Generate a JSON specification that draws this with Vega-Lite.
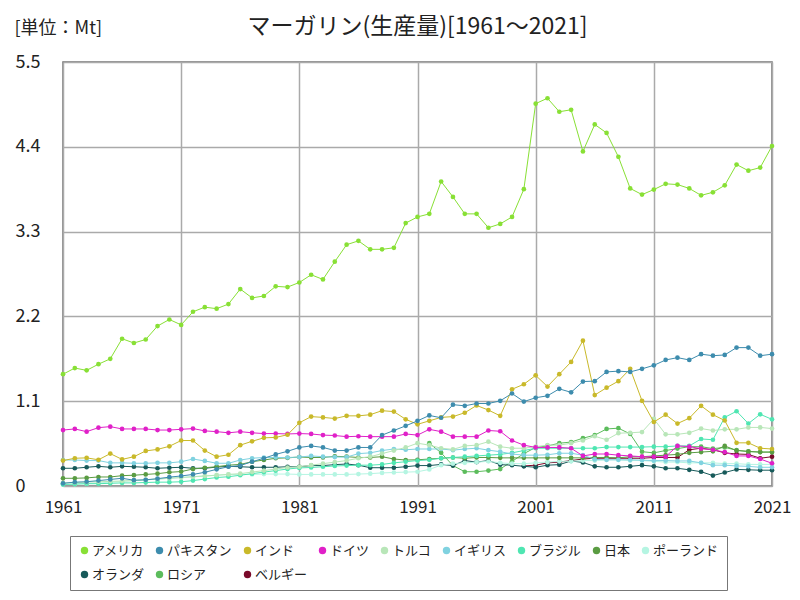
{
"$schema":"https://vega.github.io/schema/vega-lite/v6.json",
"autosize":"none",
"width":709,"height":424,
"padding":{"left":63,"top":62,"right":28,"bottom":114},
"background":"white",
"config":{"font":"Noto Sans CJK JP","view":{"stroke":"#707070","strokeWidth":1.5}},
"title":{"text":"マーガリン(生産量)[1961～2021]","fontSize":23,"fontWeight":"normal","offset":0,"dy":20,"color":"#222"},
"datasets":{
"us":[{"name":"アメリカ","year":1961,"value":1.45},{"name":"アメリカ","year":1962,"value":1.53},{"name":"アメリカ","year":1963,"value":1.5},{"name":"アメリカ","year":1964,"value":1.58},{"name":"アメリカ","year":1965,"value":1.65},{"name":"アメリカ","year":1966,"value":1.91},{"name":"アメリカ","year":1967,"value":1.855},{"name":"アメリカ","year":1968,"value":1.9},{"name":"アメリカ","year":1969,"value":2.075},{"name":"アメリカ","year":1970,"value":2.16},{"name":"アメリカ","year":1971,"value":2.09},{"name":"アメリカ","year":1972,"value":2.26},{"name":"アメリカ","year":1973,"value":2.32},{"name":"アメリカ","year":1974,"value":2.3},{"name":"アメリカ","year":1975,"value":2.36},{"name":"アメリカ","year":1976,"value":2.555},{"name":"アメリカ","year":1977,"value":2.44},{"name":"アメリカ","year":1978,"value":2.465},{"name":"アメリカ","year":1979,"value":2.59},{"name":"アメリカ","year":1980,"value":2.58},{"name":"アメリカ","year":1981,"value":2.64},{"name":"アメリカ","year":1982,"value":2.74},{"name":"アメリカ","year":1983,"value":2.68},{"name":"アメリカ","year":1984,"value":2.91},{"name":"アメリカ","year":1985,"value":3.13},{"name":"アメリカ","year":1986,"value":3.18},{"name":"アメリカ","year":1987,"value":3.07},{"name":"アメリカ","year":1988,"value":3.07},{"name":"アメリカ","year":1989,"value":3.09},{"name":"アメリカ","year":1990,"value":3.41},{"name":"アメリカ","year":1991,"value":3.49},{"name":"アメリカ","year":1992,"value":3.53},{"name":"アメリカ","year":1993,"value":3.95},{"name":"アメリカ","year":1994,"value":3.75},{"name":"アメリカ","year":1995,"value":3.53},{"name":"アメリカ","year":1996,"value":3.53},{"name":"アメリカ","year":1997,"value":3.35},{"name":"アメリカ","year":1998,"value":3.4},{"name":"アメリカ","year":1999,"value":3.49},{"name":"アメリカ","year":2000,"value":3.85},{"name":"アメリカ","year":2001,"value":4.96},{"name":"アメリカ","year":2002,"value":5.03},{"name":"アメリカ","year":2003,"value":4.855},{"name":"アメリカ","year":2004,"value":4.88},{"name":"アメリカ","year":2005,"value":4.34},{"name":"アメリカ","year":2006,"value":4.69},{"name":"アメリカ","year":2007,"value":4.58},{"name":"アメリカ","year":2008,"value":4.27},{"name":"アメリカ","year":2009,"value":3.86},{"name":"アメリカ","year":2010,"value":3.78},{"name":"アメリカ","year":2011,"value":3.845},{"name":"アメリカ","year":2012,"value":3.92},{"name":"アメリカ","year":2013,"value":3.91},{"name":"アメリカ","year":2014,"value":3.86},{"name":"アメリカ","year":2015,"value":3.77},{"name":"アメリカ","year":2016,"value":3.81},{"name":"アメリカ","year":2017,"value":3.9},{"name":"アメリカ","year":2018,"value":4.17},{"name":"アメリカ","year":2019,"value":4.09},{"name":"アメリカ","year":2020,"value":4.13},{"name":"アメリカ","year":2021,"value":4.41}],
"pk":[{"name":"パキスタン","year":1961,"value":0.035},{"name":"パキスタン","year":1962,"value":0.05},{"name":"パキスタン","year":1963,"value":0.055},{"name":"パキスタン","year":1964,"value":0.07},{"name":"パキスタン","year":1965,"value":0.085},{"name":"パキスタン","year":1966,"value":0.1},{"name":"パキスタン","year":1967,"value":0.075},{"name":"パキスタン","year":1968,"value":0.08},{"name":"パキスタン","year":1969,"value":0.095},{"name":"パキスタン","year":1970,"value":0.115},{"name":"パキスタン","year":1971,"value":0.13},{"name":"パキスタン","year":1972,"value":0.15},{"name":"パキスタン","year":1973,"value":0.178},{"name":"パキスタン","year":1974,"value":0.216},{"name":"パキスタン","year":1975,"value":0.25},{"name":"パキスタン","year":1976,"value":0.265},{"name":"パキスタン","year":1977,"value":0.315},{"name":"パキスタン","year":1978,"value":0.36},{"name":"パキスタン","year":1979,"value":0.41},{"name":"パキスタン","year":1980,"value":0.45},{"name":"パキスタン","year":1981,"value":0.5},{"name":"パキスタン","year":1982,"value":0.52},{"name":"パキスタン","year":1983,"value":0.5},{"name":"パキスタン","year":1984,"value":0.46},{"name":"パキスタン","year":1985,"value":0.46},{"name":"パキスタン","year":1986,"value":0.5},{"name":"パキスタン","year":1987,"value":0.5},{"name":"パキスタン","year":1988,"value":0.66},{"name":"パキスタン","year":1989,"value":0.72},{"name":"パキスタン","year":1990,"value":0.78},{"name":"パキスタン","year":1991,"value":0.845},{"name":"パキスタン","year":1992,"value":0.915},{"name":"パキスタン","year":1993,"value":0.885},{"name":"パキスタン","year":1994,"value":1.055},{"name":"パキスタン","year":1995,"value":1.04},{"name":"パキスタン","year":1996,"value":1.07},{"name":"パキスタン","year":1997,"value":1.07},{"name":"パキスタン","year":1998,"value":1.105},{"name":"パキスタン","year":1999,"value":1.2},{"name":"パキスタン","year":2000,"value":1.095},{"name":"パキスタン","year":2001,"value":1.145},{"name":"パキスタン","year":2002,"value":1.17},{"name":"パキスタン","year":2003,"value":1.26},{"name":"パキスタン","year":2004,"value":1.215},{"name":"パキスタン","year":2005,"value":1.355},{"name":"パキスタン","year":2006,"value":1.36},{"name":"パキスタン","year":2007,"value":1.48},{"name":"パキスタン","year":2008,"value":1.49},{"name":"パキスタン","year":2009,"value":1.48},{"name":"パキスタン","year":2010,"value":1.52},{"name":"パキスタン","year":2011,"value":1.565},{"name":"パキスタン","year":2012,"value":1.635},{"name":"パキスタン","year":2013,"value":1.665},{"name":"パキスタン","year":2014,"value":1.635},{"name":"パキスタン","year":2015,"value":1.71},{"name":"パキスタン","year":2016,"value":1.69},{"name":"パキスタン","year":2017,"value":1.7},{"name":"パキスタン","year":2018,"value":1.795},{"name":"パキスタン","year":2019,"value":1.795},{"name":"パキスタン","year":2020,"value":1.69},{"name":"パキスタン","year":2021,"value":1.71}],
"in":[{"name":"インド","year":1961,"value":0.33},{"name":"インド","year":1962,"value":0.36},{"name":"インド","year":1963,"value":0.365},{"name":"インド","year":1964,"value":0.34},{"name":"インド","year":1965,"value":0.42},{"name":"インド","year":1966,"value":0.345},{"name":"インド","year":1967,"value":0.38},{"name":"インド","year":1968,"value":0.455},{"name":"インド","year":1969,"value":0.475},{"name":"インド","year":1970,"value":0.515},{"name":"インド","year":1971,"value":0.59},{"name":"インド","year":1972,"value":0.59},{"name":"インド","year":1973,"value":0.46},{"name":"インド","year":1974,"value":0.38},{"name":"インド","year":1975,"value":0.405},{"name":"インド","year":1976,"value":0.53},{"name":"インド","year":1977,"value":0.58},{"name":"インド","year":1978,"value":0.625},{"name":"インド","year":1979,"value":0.63},{"name":"インド","year":1980,"value":0.665},{"name":"インド","year":1981,"value":0.82},{"name":"インド","year":1982,"value":0.9},{"name":"インド","year":1983,"value":0.89},{"name":"インド","year":1984,"value":0.875},{"name":"インド","year":1985,"value":0.91},{"name":"インド","year":1986,"value":0.91},{"name":"インド","year":1987,"value":0.925},{"name":"インド","year":1988,"value":0.977},{"name":"インド","year":1989,"value":0.965},{"name":"インド","year":1990,"value":0.865},{"name":"インド","year":1991,"value":0.8},{"name":"インド","year":1992,"value":0.845},{"name":"インド","year":1993,"value":0.89},{"name":"インド","year":1994,"value":0.9},{"name":"インド","year":1995,"value":0.95},{"name":"インド","year":1996,"value":1.045},{"name":"インド","year":1997,"value":0.985},{"name":"インド","year":1998,"value":0.91},{"name":"インド","year":1999,"value":1.255},{"name":"インド","year":2000,"value":1.32},{"name":"インド","year":2001,"value":1.435},{"name":"インド","year":2002,"value":1.29},{"name":"インド","year":2003,"value":1.45},{"name":"インド","year":2004,"value":1.61},{"name":"インド","year":2005,"value":1.885},{"name":"インド","year":2006,"value":1.18},{"name":"インド","year":2007,"value":1.275},{"name":"インド","year":2008,"value":1.36},{"name":"インド","year":2009,"value":1.52},{"name":"インド","year":2010,"value":1.105},{"name":"インド","year":2011,"value":0.83},{"name":"インド","year":2012,"value":0.925},{"name":"インド","year":2013,"value":0.81},{"name":"インド","year":2014,"value":0.88},{"name":"インド","year":2015,"value":1.04},{"name":"インド","year":2016,"value":0.925},{"name":"インド","year":2017,"value":0.85},{"name":"インド","year":2018,"value":0.56},{"name":"インド","year":2019,"value":0.56},{"name":"インド","year":2020,"value":0.49},{"name":"インド","year":2021,"value":0.48}],
"de":[{"name":"ドイツ","year":1961,"value":0.726},{"name":"ドイツ","year":1962,"value":0.74},{"name":"ドイツ","year":1963,"value":0.705},{"name":"ドイツ","year":1964,"value":0.757},{"name":"ドイツ","year":1965,"value":0.77},{"name":"ドイツ","year":1966,"value":0.74},{"name":"ドイツ","year":1967,"value":0.74},{"name":"ドイツ","year":1968,"value":0.74},{"name":"ドイツ","year":1969,"value":0.726},{"name":"ドイツ","year":1970,"value":0.726},{"name":"ドイツ","year":1971,"value":0.735},{"name":"ドイツ","year":1972,"value":0.745},{"name":"ドイツ","year":1973,"value":0.715},{"name":"ドイツ","year":1974,"value":0.705},{"name":"ドイツ","year":1975,"value":0.69},{"name":"ドイツ","year":1976,"value":0.705},{"name":"ドイツ","year":1977,"value":0.69},{"name":"ドイツ","year":1978,"value":0.68},{"name":"ドイツ","year":1979,"value":0.68},{"name":"ドイツ","year":1980,"value":0.675},{"name":"ドイツ","year":1981,"value":0.68},{"name":"ドイツ","year":1982,"value":0.675},{"name":"ドイツ","year":1983,"value":0.66},{"name":"ドイツ","year":1984,"value":0.655},{"name":"ドイツ","year":1985,"value":0.64},{"name":"ドイツ","year":1986,"value":0.645},{"name":"ドイツ","year":1987,"value":0.64},{"name":"ドイツ","year":1988,"value":0.64},{"name":"ドイツ","year":1989,"value":0.64},{"name":"ドイツ","year":1990,"value":0.675},{"name":"ドイツ","year":1991,"value":0.66},{"name":"ドイツ","year":1992,"value":0.735},{"name":"ドイツ","year":1993,"value":0.705},{"name":"ドイツ","year":1994,"value":0.64},{"name":"ドイツ","year":1995,"value":0.64},{"name":"ドイツ","year":1996,"value":0.64},{"name":"ドイツ","year":1997,"value":0.72},{"name":"ドイツ","year":1998,"value":0.71},{"name":"ドイツ","year":1999,"value":0.59},{"name":"ドイツ","year":2000,"value":0.53},{"name":"ドイツ","year":2001,"value":0.5},{"name":"ドイツ","year":2002,"value":0.5},{"name":"ドイツ","year":2003,"value":0.5},{"name":"ドイツ","year":2004,"value":0.49},{"name":"ドイツ","year":2005,"value":0.39},{"name":"ドイツ","year":2006,"value":0.415},{"name":"ドイツ","year":2007,"value":0.415},{"name":"ドイツ","year":2008,"value":0.4},{"name":"ドイツ","year":2009,"value":0.39},{"name":"ドイツ","year":2010,"value":0.38},{"name":"ドイツ","year":2011,"value":0.38},{"name":"ドイツ","year":2012,"value":0.38},{"name":"ドイツ","year":2013,"value":0.52},{"name":"ドイツ","year":2014,"value":0.51},{"name":"ドイツ","year":2015,"value":0.485},{"name":"ドイツ","year":2016,"value":0.47},{"name":"ドイツ","year":2017,"value":0.44},{"name":"ドイツ","year":2018,"value":0.39},{"name":"ドイツ","year":2019,"value":0.39},{"name":"ドイツ","year":2020,"value":0.35},{"name":"ドイツ","year":2021,"value":0.295}],
"tr":[{"name":"トルコ","year":1961,"value":0.04},{"name":"トルコ","year":1962,"value":0.045},{"name":"トルコ","year":1963,"value":0.05},{"name":"トルコ","year":1964,"value":0.055},{"name":"トルコ","year":1965,"value":0.06},{"name":"トルコ","year":1966,"value":0.065},{"name":"トルコ","year":1967,"value":0.07},{"name":"トルコ","year":1968,"value":0.08},{"name":"トルコ","year":1969,"value":0.09},{"name":"トルコ","year":1970,"value":0.1},{"name":"トルコ","year":1971,"value":0.11},{"name":"トルコ","year":1972,"value":0.12},{"name":"トルコ","year":1973,"value":0.13},{"name":"トルコ","year":1974,"value":0.14},{"name":"トルコ","year":1975,"value":0.15},{"name":"トルコ","year":1976,"value":0.16},{"name":"トルコ","year":1977,"value":0.18},{"name":"トルコ","year":1978,"value":0.2},{"name":"トルコ","year":1979,"value":0.22},{"name":"トルコ","year":1980,"value":0.24},{"name":"トルコ","year":1981,"value":0.25},{"name":"トルコ","year":1982,"value":0.27},{"name":"トルコ","year":1983,"value":0.29},{"name":"トルコ","year":1984,"value":0.31},{"name":"トルコ","year":1985,"value":0.33},{"name":"トルコ","year":1986,"value":0.36},{"name":"トルコ","year":1987,"value":0.38},{"name":"トルコ","year":1988,"value":0.42},{"name":"トルコ","year":1989,"value":0.46},{"name":"トルコ","year":1990,"value":0.5},{"name":"トルコ","year":1991,"value":0.555},{"name":"トルコ","year":1992,"value":0.53},{"name":"トルコ","year":1993,"value":0.49},{"name":"トルコ","year":1994,"value":0.475},{"name":"トルコ","year":1995,"value":0.52},{"name":"トルコ","year":1996,"value":0.53},{"name":"トルコ","year":1997,"value":0.575},{"name":"トルコ","year":1998,"value":0.51},{"name":"トルコ","year":1999,"value":0.49},{"name":"トルコ","year":2000,"value":0.49},{"name":"トルコ","year":2001,"value":0.51},{"name":"トルコ","year":2002,"value":0.53},{"name":"トルコ","year":2003,"value":0.53},{"name":"トルコ","year":2004,"value":0.555},{"name":"トルコ","year":2005,"value":0.59},{"name":"トルコ","year":2006,"value":0.645},{"name":"トルコ","year":2007,"value":0.6},{"name":"トルコ","year":2008,"value":0.685},{"name":"トルコ","year":2009,"value":0.69},{"name":"トルコ","year":2010,"value":0.7},{"name":"トルコ","year":2011,"value":0.87},{"name":"トルコ","year":2012,"value":0.67},{"name":"トルコ","year":2013,"value":0.67},{"name":"トルコ","year":2014,"value":0.69},{"name":"トルコ","year":2015,"value":0.745},{"name":"トルコ","year":2016,"value":0.72},{"name":"トルコ","year":2017,"value":0.735},{"name":"トルコ","year":2018,"value":0.735},{"name":"トルコ","year":2019,"value":0.76},{"name":"トルコ","year":2020,"value":0.76},{"name":"トルコ","year":2021,"value":0.745}],
"uk":[{"name":"イギリス","year":1961,"value":0.337},{"name":"イギリス","year":1962,"value":0.337},{"name":"イギリス","year":1963,"value":0.33},{"name":"イギリス","year":1964,"value":0.33},{"name":"イギリス","year":1965,"value":0.3},{"name":"イギリス","year":1966,"value":0.3},{"name":"イギリス","year":1967,"value":0.295},{"name":"イギリス","year":1968,"value":0.295},{"name":"イギリス","year":1969,"value":0.3},{"name":"イギリス","year":1970,"value":0.3},{"name":"イギリス","year":1971,"value":0.315},{"name":"イギリス","year":1972,"value":0.35},{"name":"イギリス","year":1973,"value":0.325},{"name":"イギリス","year":1974,"value":0.295},{"name":"イギリス","year":1975,"value":0.295},{"name":"イギリス","year":1976,"value":0.337},{"name":"イギリス","year":1977,"value":0.36},{"name":"イギリス","year":1978,"value":0.37},{"name":"イギリス","year":1979,"value":0.37},{"name":"イギリス","year":1980,"value":0.37},{"name":"イギリス","year":1981,"value":0.375},{"name":"イギリス","year":1982,"value":0.39},{"name":"イギリス","year":1983,"value":0.38},{"name":"イギリス","year":1984,"value":0.375},{"name":"イギリス","year":1985,"value":0.375},{"name":"イギリス","year":1986,"value":0.42},{"name":"イギリス","year":1987,"value":0.43},{"name":"イギリス","year":1988,"value":0.46},{"name":"イギリス","year":1989,"value":0.48},{"name":"イギリス","year":1990,"value":0.47},{"name":"イギリス","year":1991,"value":0.48},{"name":"イギリス","year":1992,"value":0.48},{"name":"イギリス","year":1993,"value":0.48},{"name":"イギリス","year":1994,"value":0.465},{"name":"イギリス","year":1995,"value":0.48},{"name":"イギリス","year":1996,"value":0.49},{"name":"イギリス","year":1997,"value":0.465},{"name":"イギリス","year":1998,"value":0.445},{"name":"イギリス","year":1999,"value":0.415},{"name":"イギリス","year":2000,"value":0.4},{"name":"イギリス","year":2001,"value":0.4},{"name":"イギリス","year":2002,"value":0.405},{"name":"イギリス","year":2003,"value":0.425},{"name":"イギリス","year":2004,"value":0.425},{"name":"イギリス","year":2005,"value":0.4},{"name":"イギリス","year":2006,"value":0.345},{"name":"イギリス","year":2007,"value":0.34},{"name":"イギリス","year":2008,"value":0.34},{"name":"イギリス","year":2009,"value":0.34},{"name":"イギリス","year":2010,"value":0.335},{"name":"イギリス","year":2011,"value":0.33},{"name":"イギリス","year":2012,"value":0.33},{"name":"イギリス","year":2013,"value":0.325},{"name":"イギリス","year":2014,"value":0.325},{"name":"イギリス","year":2015,"value":0.3},{"name":"イギリス","year":2016,"value":0.27},{"name":"イギリス","year":2017,"value":0.27},{"name":"イギリス","year":2018,"value":0.26},{"name":"イギリス","year":2019,"value":0.255},{"name":"イギリス","year":2020,"value":0.243},{"name":"イギリス","year":2021,"value":0.243}],
"br":[{"name":"ブラジル","year":1961,"value":0.02},{"name":"ブラジル","year":1962,"value":0.025},{"name":"ブラジル","year":1963,"value":0.03},{"name":"ブラジル","year":1964,"value":0.03},{"name":"ブラジル","year":1965,"value":0.035},{"name":"ブラジル","year":1966,"value":0.04},{"name":"ブラジル","year":1967,"value":0.04},{"name":"ブラジル","year":1968,"value":0.045},{"name":"ブラジル","year":1969,"value":0.05},{"name":"ブラジル","year":1970,"value":0.05},{"name":"ブラジル","year":1971,"value":0.055},{"name":"ブラジル","year":1972,"value":0.07},{"name":"ブラジル","year":1973,"value":0.09},{"name":"ブラジル","year":1974,"value":0.11},{"name":"ブラジル","year":1975,"value":0.12},{"name":"ブラジル","year":1976,"value":0.14},{"name":"ブラジル","year":1977,"value":0.16},{"name":"ブラジル","year":1978,"value":0.18},{"name":"ブラジル","year":1979,"value":0.2},{"name":"ブラジル","year":1980,"value":0.22},{"name":"ブラジル","year":1981,"value":0.235},{"name":"ブラジル","year":1982,"value":0.24},{"name":"ブラジル","year":1983,"value":0.25},{"name":"ブラジル","year":1984,"value":0.26},{"name":"ブラジル","year":1985,"value":0.265},{"name":"ブラジル","year":1986,"value":0.27},{"name":"ブラジル","year":1987,"value":0.27},{"name":"ブラジル","year":1988,"value":0.28},{"name":"ブラジル","year":1989,"value":0.3},{"name":"ブラジル","year":1990,"value":0.315},{"name":"ブラジル","year":1991,"value":0.33},{"name":"ブラジル","year":1992,"value":0.34},{"name":"ブラジル","year":1993,"value":0.36},{"name":"ブラジル","year":1994,"value":0.37},{"name":"ブラジル","year":1995,"value":0.38},{"name":"ブラジル","year":1996,"value":0.39},{"name":"ブラジル","year":1997,"value":0.4},{"name":"ブラジル","year":1998,"value":0.41},{"name":"ブラジル","year":1999,"value":0.43},{"name":"ブラジル","year":2000,"value":0.46},{"name":"ブラジル","year":2001,"value":0.49},{"name":"ブラジル","year":2002,"value":0.49},{"name":"ブラジル","year":2003,"value":0.49},{"name":"ブラジル","year":2004,"value":0.49},{"name":"ブラジル","year":2005,"value":0.49},{"name":"ブラジル","year":2006,"value":0.49},{"name":"ブラジル","year":2007,"value":0.505},{"name":"ブラジル","year":2008,"value":0.505},{"name":"ブラジル","year":2009,"value":0.505},{"name":"ブラジル","year":2010,"value":0.505},{"name":"ブラジル","year":2011,"value":0.51},{"name":"ブラジル","year":2012,"value":0.51},{"name":"ブラジル","year":2013,"value":0.52},{"name":"ブラジル","year":2014,"value":0.52},{"name":"ブラジル","year":2015,"value":0.61},{"name":"ブラジル","year":2016,"value":0.6},{"name":"ブラジル","year":2017,"value":0.89},{"name":"ブラジル","year":2018,"value":0.97},{"name":"ブラジル","year":2019,"value":0.81},{"name":"ブラジル","year":2020,"value":0.93},{"name":"ブラジル","year":2021,"value":0.865}],
"jp":[{"name":"日本","year":1961,"value":0.1},{"name":"日本","year":1962,"value":0.1},{"name":"日本","year":1963,"value":0.105},{"name":"日本","year":1964,"value":0.117},{"name":"日本","year":1965,"value":0.117},{"name":"日本","year":1966,"value":0.134},{"name":"日本","year":1967,"value":0.14},{"name":"日本","year":1968,"value":0.15},{"name":"日本","year":1969,"value":0.16},{"name":"日本","year":1970,"value":0.178},{"name":"日本","year":1971,"value":0.187},{"name":"日本","year":1972,"value":0.22},{"name":"日本","year":1973,"value":0.237},{"name":"日本","year":1974,"value":0.25},{"name":"日本","year":1975,"value":0.27},{"name":"日本","year":1976,"value":0.28},{"name":"日本","year":1977,"value":0.315},{"name":"日本","year":1978,"value":0.337},{"name":"日本","year":1979,"value":0.36},{"name":"日本","year":1980,"value":0.365},{"name":"日本","year":1981,"value":0.376},{"name":"日本","year":1982,"value":0.37},{"name":"日本","year":1983,"value":0.37},{"name":"日本","year":1984,"value":0.385},{"name":"日本","year":1985,"value":0.38},{"name":"日本","year":1986,"value":0.37},{"name":"日本","year":1987,"value":0.37},{"name":"日本","year":1988,"value":0.38},{"name":"日本","year":1989,"value":0.35},{"name":"日本","year":1990,"value":0.337},{"name":"日本","year":1991,"value":0.34},{"name":"日本","year":1992,"value":0.35},{"name":"日本","year":1993,"value":0.36},{"name":"日本","year":1994,"value":0.37},{"name":"日本","year":1995,"value":0.36},{"name":"日本","year":1996,"value":0.37},{"name":"日本","year":1997,"value":0.37},{"name":"日本","year":1998,"value":0.365},{"name":"日本","year":1999,"value":0.365},{"name":"日本","year":2000,"value":0.365},{"name":"日本","year":2001,"value":0.365},{"name":"日本","year":2002,"value":0.365},{"name":"日本","year":2003,"value":0.365},{"name":"日本","year":2004,"value":0.365},{"name":"日本","year":2005,"value":0.365},{"name":"日本","year":2006,"value":0.37},{"name":"日本","year":2007,"value":0.37},{"name":"日本","year":2008,"value":0.365},{"name":"日本","year":2009,"value":0.38},{"name":"日本","year":2010,"value":0.38},{"name":"日本","year":2011,"value":0.39},{"name":"日本","year":2012,"value":0.4},{"name":"日本","year":2013,"value":0.41},{"name":"日本","year":2014,"value":0.43},{"name":"日本","year":2015,"value":0.44},{"name":"日本","year":2016,"value":0.45},{"name":"日本","year":2017,"value":0.52},{"name":"日本","year":2018,"value":0.46},{"name":"日本","year":2019,"value":0.45},{"name":"日本","year":2020,"value":0.44},{"name":"日本","year":2021,"value":0.44}],
"pl":[{"name":"ポーランド","year":1961,"value":0.02},{"name":"ポーランド","year":1962,"value":0.025},{"name":"ポーランド","year":1963,"value":0.03},{"name":"ポーランド","year":1964,"value":0.04},{"name":"ポーランド","year":1965,"value":0.05},{"name":"ポーランド","year":1966,"value":0.06},{"name":"ポーランド","year":1967,"value":0.07},{"name":"ポーランド","year":1968,"value":0.08},{"name":"ポーランド","year":1969,"value":0.09},{"name":"ポーランド","year":1970,"value":0.1},{"name":"ポーランド","year":1971,"value":0.11},{"name":"ポーランド","year":1972,"value":0.12},{"name":"ポーランド","year":1973,"value":0.13},{"name":"ポーランド","year":1974,"value":0.14},{"name":"ポーランド","year":1975,"value":0.15},{"name":"ポーランド","year":1976,"value":0.15},{"name":"ポーランド","year":1977,"value":0.15},{"name":"ポーランド","year":1978,"value":0.155},{"name":"ポーランド","year":1979,"value":0.155},{"name":"ポーランド","year":1980,"value":0.155},{"name":"ポーランド","year":1981,"value":0.15},{"name":"ポーランド","year":1982,"value":0.15},{"name":"ポーランド","year":1983,"value":0.15},{"name":"ポーランド","year":1984,"value":0.15},{"name":"ポーランド","year":1985,"value":0.15},{"name":"ポーランド","year":1986,"value":0.155},{"name":"ポーランド","year":1987,"value":0.16},{"name":"ポーランド","year":1988,"value":0.17},{"name":"ポーランド","year":1989,"value":0.175},{"name":"ポーランド","year":1990,"value":0.18},{"name":"ポーランド","year":1991,"value":0.185},{"name":"ポーランド","year":1992,"value":0.215},{"name":"ポーランド","year":1993,"value":0.27},{"name":"ポーランド","year":1994,"value":0.29},{"name":"ポーランド","year":1995,"value":0.3},{"name":"ポーランド","year":1996,"value":0.31},{"name":"ポーランド","year":1997,"value":0.32},{"name":"ポーランド","year":1998,"value":0.3},{"name":"ポーランド","year":1999,"value":0.29},{"name":"ポーランド","year":2000,"value":0.29},{"name":"ポーランド","year":2001,"value":0.3},{"name":"ポーランド","year":2002,"value":0.31},{"name":"ポーランド","year":2003,"value":0.32},{"name":"ポーランド","year":2004,"value":0.32},{"name":"ポーランド","year":2005,"value":0.33},{"name":"ポーランド","year":2006,"value":0.33},{"name":"ポーランド","year":2007,"value":0.34},{"name":"ポーランド","year":2008,"value":0.34},{"name":"ポーランド","year":2009,"value":0.33},{"name":"ポーランド","year":2010,"value":0.33},{"name":"ポーランド","year":2011,"value":0.32},{"name":"ポーランド","year":2012,"value":0.31},{"name":"ポーランド","year":2013,"value":0.31},{"name":"ポーランド","year":2014,"value":0.3},{"name":"ポーランド","year":2015,"value":0.3},{"name":"ポーランド","year":2016,"value":0.3},{"name":"ポーランド","year":2017,"value":0.29},{"name":"ポーランド","year":2018,"value":0.29},{"name":"ポーランド","year":2019,"value":0.28},{"name":"ポーランド","year":2020,"value":0.28},{"name":"ポーランド","year":2021,"value":0.28}],
"nl":[{"name":"オランダ","year":1961,"value":0.23},{"name":"オランダ","year":1962,"value":0.23},{"name":"オランダ","year":1963,"value":0.243},{"name":"オランダ","year":1964,"value":0.255},{"name":"オランダ","year":1965,"value":0.243},{"name":"オランダ","year":1966,"value":0.255},{"name":"オランダ","year":1967,"value":0.25},{"name":"オランダ","year":1968,"value":0.243},{"name":"オランダ","year":1969,"value":0.23},{"name":"オランダ","year":1970,"value":0.237},{"name":"オランダ","year":1971,"value":0.243},{"name":"オランダ","year":1972,"value":0.23},{"name":"オランダ","year":1973,"value":0.23},{"name":"オランダ","year":1974,"value":0.245},{"name":"オランダ","year":1975,"value":0.255},{"name":"オランダ","year":1976,"value":0.25},{"name":"オランダ","year":1977,"value":0.243},{"name":"オランダ","year":1978,"value":0.243},{"name":"オランダ","year":1979,"value":0.243},{"name":"オランダ","year":1980,"value":0.25},{"name":"オランダ","year":1981,"value":0.25},{"name":"オランダ","year":1982,"value":0.265},{"name":"オランダ","year":1983,"value":0.265},{"name":"オランダ","year":1984,"value":0.277},{"name":"オランダ","year":1985,"value":0.285},{"name":"オランダ","year":1986,"value":0.27},{"name":"オランダ","year":1987,"value":0.237},{"name":"オランダ","year":1988,"value":0.237},{"name":"オランダ","year":1989,"value":0.237},{"name":"オランダ","year":1990,"value":0.25},{"name":"オランダ","year":1991,"value":0.265},{"name":"オランダ","year":1992,"value":0.265},{"name":"オランダ","year":1993,"value":0.28},{"name":"オランダ","year":1994,"value":0.265},{"name":"オランダ","year":1995,"value":0.33},{"name":"オランダ","year":1996,"value":0.31},{"name":"オランダ","year":1997,"value":0.33},{"name":"オランダ","year":1998,"value":0.277},{"name":"オランダ","year":1999,"value":0.27},{"name":"オランダ","year":2000,"value":0.255},{"name":"オランダ","year":2001,"value":0.243},{"name":"オランダ","year":2002,"value":0.27},{"name":"オランダ","year":2003,"value":0.277},{"name":"オランダ","year":2004,"value":0.325},{"name":"オランダ","year":2005,"value":0.305},{"name":"オランダ","year":2006,"value":0.255},{"name":"オランダ","year":2007,"value":0.243},{"name":"オランダ","year":2008,"value":0.243},{"name":"オランダ","year":2009,"value":0.255},{"name":"オランダ","year":2010,"value":0.27},{"name":"オランダ","year":2011,"value":0.255},{"name":"オランダ","year":2012,"value":0.23},{"name":"オランダ","year":2013,"value":0.23},{"name":"オランダ","year":2014,"value":0.21},{"name":"オランダ","year":2015,"value":0.185},{"name":"オランダ","year":2016,"value":0.135},{"name":"オランダ","year":2017,"value":0.175},{"name":"オランダ","year":2018,"value":0.215},{"name":"オランダ","year":2019,"value":0.21},{"name":"オランダ","year":2020,"value":0.205},{"name":"オランダ","year":2021,"value":0.205}],
"ru":[{"name":"ロシア","year":1992,"value":0.555},{"name":"ロシア","year":1993,"value":0.43},{"name":"ロシア","year":1994,"value":0.265},{"name":"ロシア","year":1995,"value":0.185},{"name":"ロシア","year":1996,"value":0.185},{"name":"ロシア","year":1997,"value":0.2},{"name":"ロシア","year":1998,"value":0.22},{"name":"ロシア","year":1999,"value":0.32},{"name":"ロシア","year":2000,"value":0.42},{"name":"ロシア","year":2001,"value":0.5},{"name":"ロシア","year":2002,"value":0.52},{"name":"ロシア","year":2003,"value":0.555},{"name":"ロシア","year":2004,"value":0.57},{"name":"ロシア","year":2005,"value":0.62},{"name":"ロシア","year":2006,"value":0.66},{"name":"ロシア","year":2007,"value":0.74},{"name":"ロシア","year":2008,"value":0.75},{"name":"ロシア","year":2009,"value":0.675},{"name":"ロシア","year":2010,"value":0.445},{"name":"ロシア","year":2011,"value":0.43},{"name":"ロシア","year":2012,"value":0.46},{"name":"ロシア","year":2013,"value":0.485},{"name":"ロシア","year":2014,"value":0.51},{"name":"ロシア","year":2015,"value":0.51},{"name":"ロシア","year":2016,"value":0.485},{"name":"ロシア","year":2017,"value":0.5},{"name":"ロシア","year":2018,"value":0.465},{"name":"ロシア","year":2019,"value":0.445},{"name":"ロシア","year":2020,"value":0.44},{"name":"ロシア","year":2021,"value":0.44}],
"be":[{"name":"ベルギー","year":2000,"value":0.26},{"name":"ベルギー","year":2001,"value":0.27},{"name":"ベルギー","year":2002,"value":0.3},{"name":"ベルギー","year":2003,"value":0.31},{"name":"ベルギー","year":2004,"value":0.33},{"name":"ベルギー","year":2005,"value":0.35},{"name":"ベルギー","year":2006,"value":0.36},{"name":"ベルギー","year":2007,"value":0.36},{"name":"ベルギー","year":2008,"value":0.36},{"name":"ベルギー","year":2009,"value":0.36},{"name":"ベルギー","year":2010,"value":0.36},{"name":"ベルギー","year":2011,"value":0.37},{"name":"ベルギー","year":2012,"value":0.37},{"name":"ベルギー","year":2013,"value":0.37},{"name":"ベルギー","year":2014,"value":0.47},{"name":"ベルギー","year":2015,"value":0.49},{"name":"ベルギー","year":2016,"value":0.47},{"name":"ベルギー","year":2017,"value":0.43},{"name":"ベルギー","year":2018,"value":0.415},{"name":"ベルギー","year":2019,"value":0.41},{"name":"ベルギー","year":2020,"value":0.36},{"name":"ベルギー","year":2021,"value":0.38}]
},
"layer":[
{"data":{"name":"be"},"mark":{"type":"line","strokeWidth":1,"point":{"filled":true,"size":22}},"encoding":{}},
{"data":{"name":"ru"},"mark":{"type":"line","strokeWidth":1,"point":{"filled":true,"size":22}},"encoding":{}},
{"data":{"name":"nl"},"mark":{"type":"line","strokeWidth":1,"point":{"filled":true,"size":22}},"encoding":{}},
{"data":{"name":"pl"},"mark":{"type":"line","strokeWidth":1,"point":{"filled":true,"size":22}},"encoding":{}},
{"data":{"name":"jp"},"mark":{"type":"line","strokeWidth":1,"point":{"filled":true,"size":22}},"encoding":{}},
{"data":{"name":"br"},"mark":{"type":"line","strokeWidth":1,"point":{"filled":true,"size":22}},"encoding":{}},
{"data":{"name":"uk"},"mark":{"type":"line","strokeWidth":1,"point":{"filled":true,"size":22}},"encoding":{}},
{"data":{"name":"tr"},"mark":{"type":"line","strokeWidth":1,"point":{"filled":true,"size":22}},"encoding":{}},
{"data":{"name":"de"},"mark":{"type":"line","strokeWidth":1,"point":{"filled":true,"size":22}},"encoding":{}},
{"data":{"name":"in"},"mark":{"type":"line","strokeWidth":1,"point":{"filled":true,"size":22}},"encoding":{}},
{"data":{"name":"pk"},"mark":{"type":"line","strokeWidth":1,"point":{"filled":true,"size":22}},"encoding":{}},
{"data":{"name":"us"},"mark":{"type":"line","strokeWidth":1,"point":{"filled":true,"size":22}},"encoding":{}}
],
"encoding":{
"x":{"field":"year","type":"quantitative","scale":{"domain":[1961,2021],"nice":false,"zero":false},"axis":{"values":[1961,1971,1981,1991,2001,2011,2021],"format":"d","title":null,"grid":true,"gridColor":"#aaaaaa","gridWidth":1.5,"domain":false,"ticks":false,"labelFontSize":17,"labelPadding":13,"labelColor":"#222","labelFlush":false}},
"y":{"field":"value","type":"quantitative","scale":{"domain":[0,5.5],"nice":false,"zero":true},"axis":{"values":[0,1.1,2.2,3.3,4.4,5.5],"labelExpr":"datum.value == 0 ? '0' : format(datum.value, '.1f')","title":"[単位：Mt]","titleAngle":0,"titleAlign":"left","titleBaseline":"middle","titleX":-49,"titleY":-34,"titleFontSize":18,"titleFontWeight":"normal","titleColor":"#222","labelAlign":"left","labelPadding":48,"labelFontSize":18,"labelColor":"#222","ticks":false,"domain":false,"grid":true,"gridColor":"#aaaaaa","gridWidth":1.5}},
"color":{"field":"name","type":"nominal","scale":{"domain":["アメリカ","パキスタン","インド","ドイツ","トルコ","イギリス","ブラジル","日本","ポーランド","オランダ","ロシア","ベルギー"],"range":["#88e035","#3d8cad","#c9b92a","#e020c8","#b8e6b8","#80d2e0","#4fe6b2","#5a9c42","#b5f5e2","#175a5a","#5cbc5c","#7a0a2a"]},"legend":{"orient":"none","legendX":7,"legendY":474,"direction":"horizontal","columns":9,"gridAlign":"none","title":null,"symbolType":"circle","symbolSize":55,"symbolStrokeWidth":0,"labelFontSize":13,"labelOffset":1,"labelLimit":80,"labelColor":"#222","columnPadding":8,"rowPadding":10,"padding":8,"strokeColor":"#777"}}
}
}
